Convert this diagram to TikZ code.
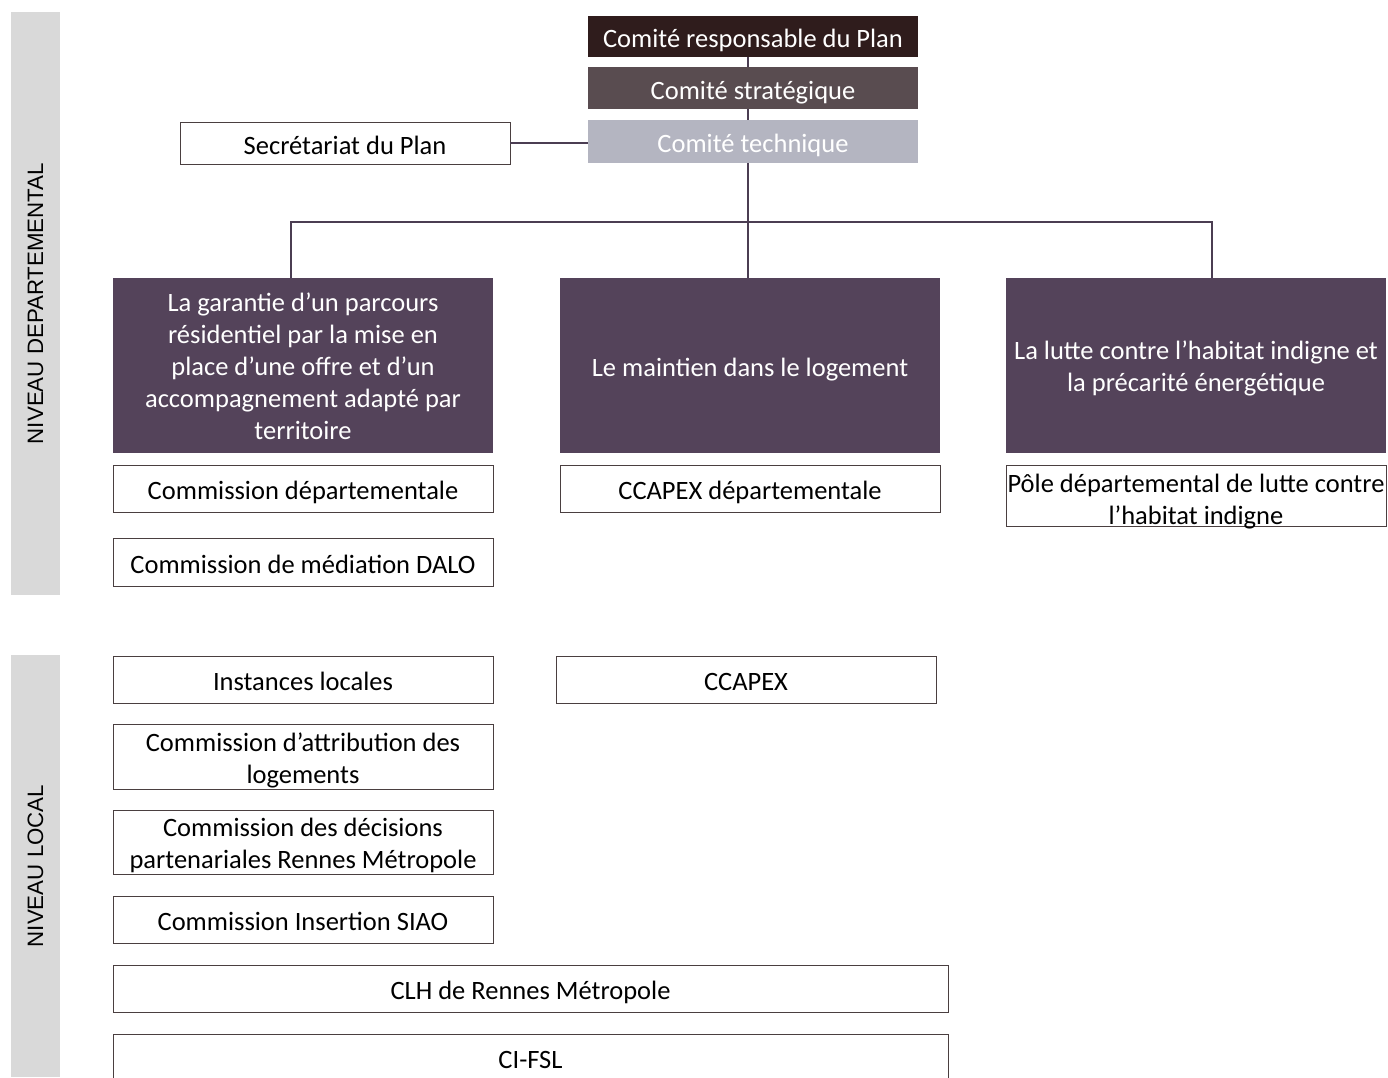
\documentclass[tikz,border=0pt]{standalone}
\usepackage{fontspec}
\setmainfont{Carlito}
\newfontfamily\sidefont{Liberation Sans}
\definecolor{respfill}{HTML}{2F1C1C}
\definecolor{stratfill}{HTML}{594C50}
\definecolor{techfill}{HTML}{B4B5C1}
\definecolor{axefill}{HTML}{54435A}
\definecolor{sidefill}{HTML}{D9D9D9}
\definecolor{boxline}{HTML}{4A3F40}
\definecolor{linkline}{HTML}{4B3D52}
\newcommand{\wordstrut}{\rule[-0.269em]{0pt}{\dimexpr1.221em+4pt\relax}}
\newcommand{\lastlinestrut}{\rule[-0.269em]{0pt}{1.221em}}
% lines of a box, pushed down by a first-line strut
\newcommand{\boxlines}[2]{\begin{tabular}{@{}c@{}}\rule{0pt}{#1}#2\end{tabular}}
\begin{document}
\begin{tikzpicture}[x=1pt, y=-1pt]
        	\tikzstyle{txt}=[align=center, font=\fontsize{26.5}{32}\selectfont, execute at begin node=\wordstrut, execute at end node=\lastlinestrut]
        	\tikzstyle{box}=[txt, draw=boxline, line width=0.8pt, fill=white, inner sep=1pt, minimum width=380pt]
        	\tikzstyle{comite}=[txt, minimum width=330pt, inner sep=0pt, text=white]
        	\tikzstyle{axe}=[txt, fill=axefill, text=white, minimum width=380pt, minimum height=175pt, inner sep=0pt]
        	\tikzstyle{side}=[fill=sidefill, minimum height=49pt, inner sep=0pt, rotate=90, font=\sidefont\fontsize{22.3}{26}\selectfont]
        	\tikzstyle{link}=[draw=linkline, line width=1.6pt]
        	\useasboundingbox (0,0) rectangle (1388,1077);
        	\clip (0,0) rectangle (1388,1077);
        	% Side bars
        	\node [side, minimum width=583pt] (side_dep) at (35.5,303.5) {NIVEAU DEPARTEMENTAL};
        	\node [side, minimum width=422pt] (side_loc) at (35.5,866) {NIVEAU LOCAL};
        	% Comites
        	\node [comite, fill=respfill, minimum height=41pt] (resp) at (753,36.5) {Comité responsable du Plan};
        	\node [comite, fill=stratfill, minimum height=42pt] (strat) at (753,88) {Comité stratégique};
        	\node [comite, fill=techfill, minimum height=43pt] (tech) at (753,141.5) {Comité technique};
        	\node [box, minimum width=330pt, minimum height=42pt] (secr) at (345,143) {Secrétariat du Plan};
        	% Axes
        	\node [axe] (axe_1) at (303,365.5) {\boxlines{29.6pt}{La garantie d’un parcours\\résidentiel par la mise en\\place d’une offre et d’un\\accompagnement adapté par\\territoire}};
        	\node [axe] (axe_2) at (750,365.5) {Le maintien dans le logement};
        	\node [axe] (axe_3) at (1196,365.5) {\boxlines{29.6pt}{La lutte contre l’habitat indigne et\\la précarité énergétique}};
        	% Niveau departemental
        	\node [box, minimum height=47pt] (dep_1) at (303,488.5) {Commission départementale};
        	\node [box, minimum height=48pt] (dep_2) at (303,562) {Commission de médiation DALO};
        	\node [box, minimum height=47pt] (dep_3) at (750,488.5) {CCAPEX départementale};
        	\node [box, minimum height=61pt, inner xsep=0pt, inner ysep=-8.1pt] (dep_4) at (1196,495.5) {\boxlines{35.6pt}{Pôle départemental de lutte contre\\l’habitat indigne}};
        	% Niveau local
        	\node [box, minimum height=47pt] (loc_1) at (303,679.5) {Instances locales};
        	\node [box, minimum height=47pt] (loc_2) at (746,679.5) {CCAPEX};
        	\node [box, minimum height=65pt, inner ysep=-4.1pt] (loc_3) at (303,756.5) {\boxlines{31.6pt}{Commission d’attribution des\\logements}};
        	\node [box, minimum height=64pt, inner ysep=-4.1pt] (loc_4) at (303,842) {\boxlines{30.6pt}{Commission des décisions\\partenariales Rennes Métropole}};
        	\node [box, minimum height=47pt] (loc_5) at (303,919.5) {Commission Insertion SIAO};
        	\node [box, minimum width=835pt, minimum height=47pt] (loc_6) at (530.5,988.5) {CLH de Rennes Métropole};
        	\node [box, minimum width=835pt, minimum height=60pt] (loc_7) at (530.5,1064) {\raisebox{6.5pt}{CI-FSL}};
        	%---------------------%
        	% Links
        	\draw [link] ([xshift=-5pt]resp.south) -- ([xshift=-5pt]strat.north);
        	\draw [link] ([xshift=-5pt]strat.south) -- ([xshift=-5pt]tech.north);
        	\draw [link] (secr.east) -- (secr.east -| tech.west);
        	\coordinate (fork) at (748,222);
        	\draw [link] ([xshift=-5pt]tech.south) -- (fork);
        	\draw [link] (fork) -| ([xshift=-12pt]axe_1.north);
        	\draw [link] (fork) -- (fork |- axe_2.north);
        	\draw [link] (fork) -| ([xshift=16pt]axe_3.north);
\end{tikzpicture}
\end{document}
